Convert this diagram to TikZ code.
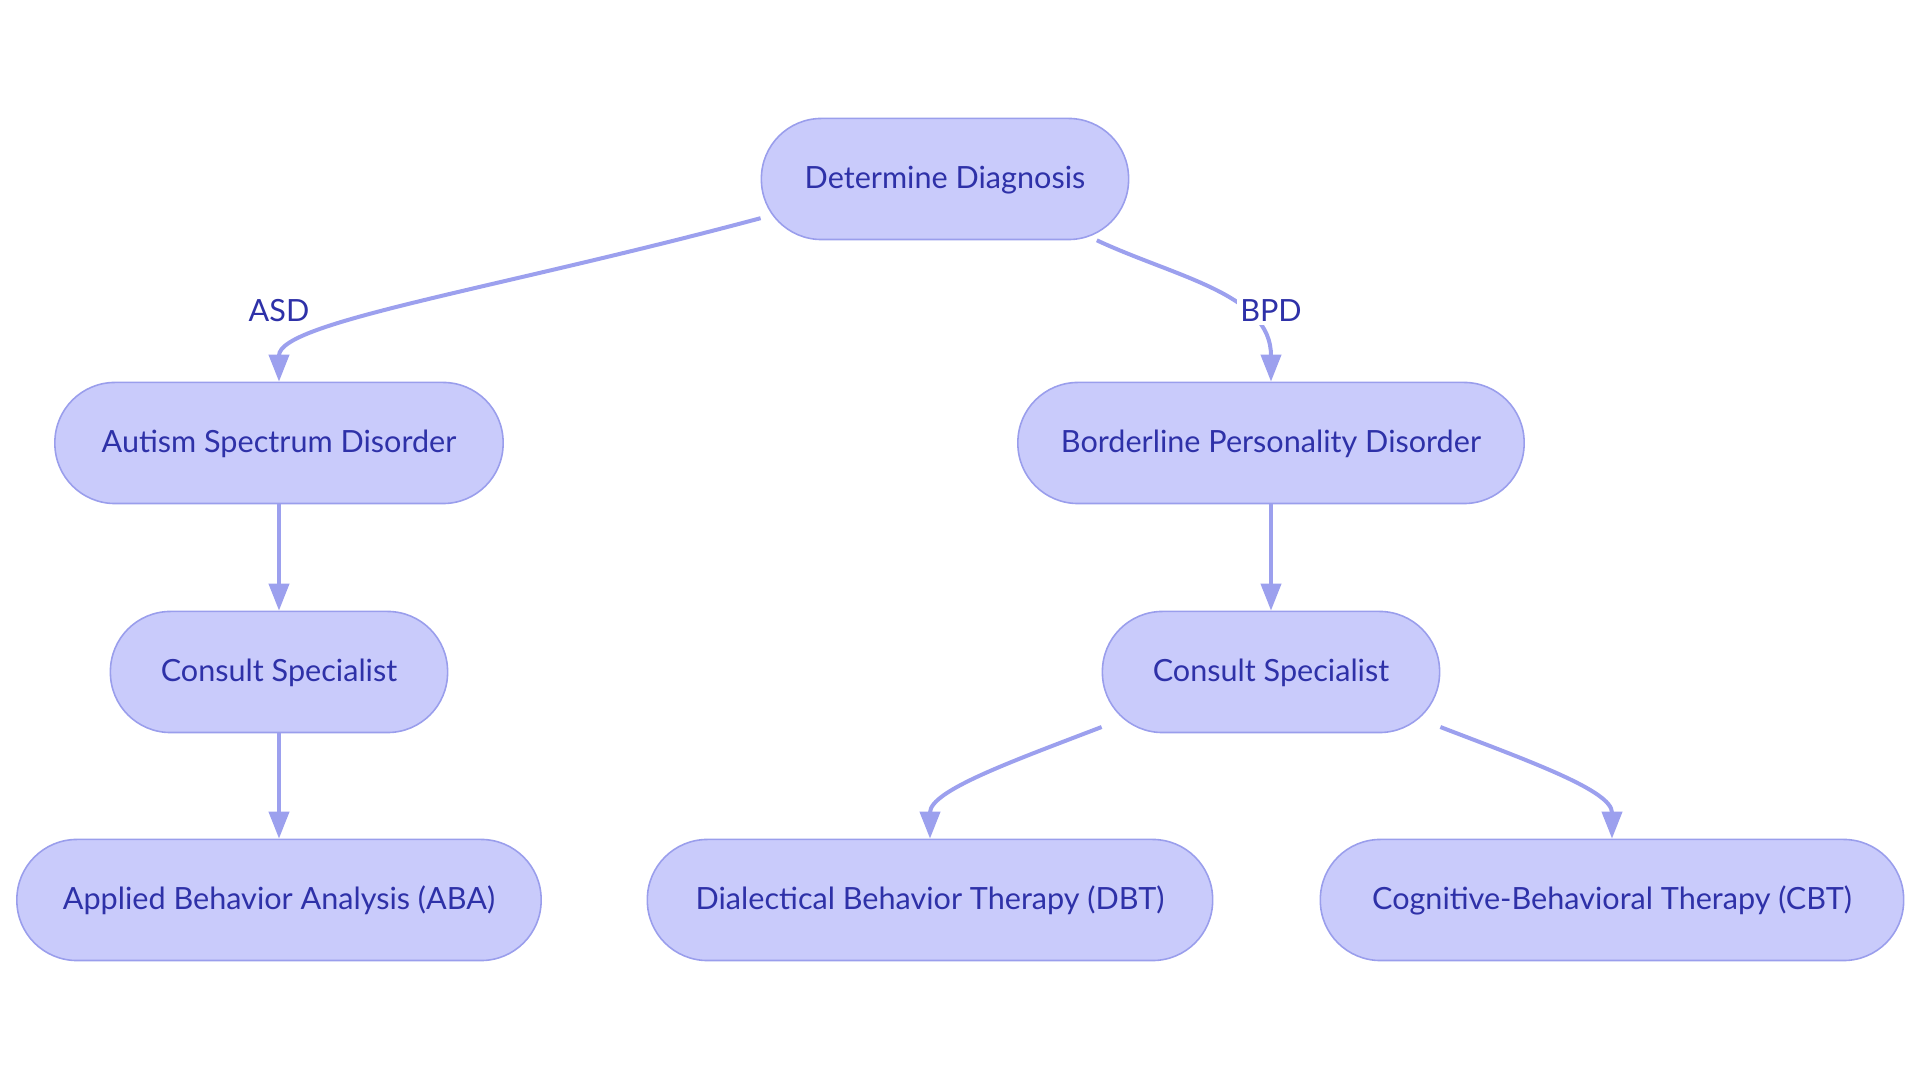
\documentclass[tikz,border=0pt]{standalone}
\usepackage{fontspec}
\setmainfont{Lato}
\usetikzlibrary{arrows.meta}
\definecolor{boxfill}{HTML}{C9CBFB}
\definecolor{boxline}{HTML}{9A9EEC}
\definecolor{boxtext}{HTML}{2E31A8}
\definecolor{flowline}{HTML}{9CA0EE}
\begin{document}
\begin{tikzpicture}[x=0.01cm, y=-0.01cm,
        box/.style={draw=boxline, line width=0.45pt, fill=boxfill, text=boxtext,
            rounded corners=0.6cm, minimum height=1.21cm, text depth=0.04cm,
            font=\fontsize{8.7}{11}\selectfont},
        flow/.style={draw=flowline, line width=0.04cm, -{Triangle[length=0.27cm, width=0.2cm]}},
        tag/.style={fill=white, text=boxtext, inner sep=1pt, font=\fontsize{8.7}{11}\selectfont}]
        \useasboundingbox (0,0) rectangle (1920,1080);
        \node[box, minimum width=3.67cm] (1) at (945,179) {Determine Diagnosis};
        \node[box, minimum width=4.48cm] (2) at (279,443) {Autism Spectrum Disorder};
        \node[box, minimum width=5.06cm] (3) at (1271,443) {Borderline Personality Disorder};
        \node[box, minimum width=3.37cm] (4) at (279,672) {Consult Specialist};
        \node[box, minimum width=3.37cm] (5) at (1271,672) {Consult Specialist};
        \node[box, minimum width=5.24cm] (6) at (279,900) {Applied Behavior Analysis (ABA)};
        \node[box, minimum width=5.65cm] (7) at (930,900) {Dialectical Behavior Therapy (DBT)};
        \node[box, minimum width=5.83cm] (8) at (1612,900) {Cognitive-Behavioral Therapy (CBT)};
        \path[flow] (1.192) to[out=195, in=90, out looseness=1.4, in looseness=0.3] (2.north);
        \path[flow] (1.338) to[out=-25, in=90] (3.north);
        \path[flow] (2) -- (4);
        \path[flow] (4) -- (6);
        \path[flow] (3) -- (5);
        \path[flow] (5.198) to[out=201, in=90, out looseness=1.2, in looseness=0.6] (7.north);
        \path[flow] (5.342) to[out=-21, in=90, out looseness=1.2, in looseness=0.6] (8.north);
        \node[tag] (asd) at (279,311) {ASD};
        \node[tag] (bpd) at (1271,311) {BPD};
    \end{tikzpicture}
\end{document}
